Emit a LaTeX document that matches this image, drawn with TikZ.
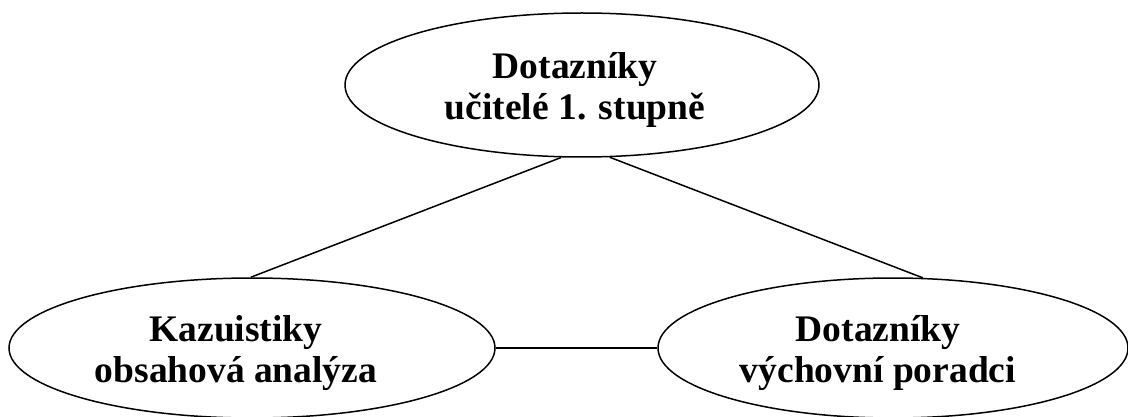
\documentclass[tikz,border=0pt]{standalone}
\usepackage{fontspec}
\setmainfont{Liberation Serif}
\usetikzlibrary{shapes.geometric}
\tikzset{
  oval/.style={draw, ellipse, line width=1.5pt, inner sep=0pt},
  caption/.style={align=center, font=\bfseries\fontsize{37.5}{41}\selectfont, inner sep=0pt},
  link/.style={line width=1.5pt}
}
\begin{document}
\begin{tikzpicture}[x=1pt, y=-1pt]
  \useasboundingbox (0,0) rectangle (1128,417);
  % the three ellipses
  \node[oval, minimum width=474pt, minimum height=144pt] (top)   at (582,85)  {};
  \node[oval, minimum width=486pt, minimum height=140pt] (left)  at (252,348) {};
  \node[oval, minimum width=470pt, minimum height=140pt] (right) at (893,348) {};
  % their labels
  \node[caption] (ttop)   at (575,90)  {Dotazníky\\učitelé 1. stupně};
  \node[caption] (tleft)  at (236,353) {Kazuistiky\\obsahová analýza};
  \node[caption] (tright) at (878,353) {Dotazníky\\výchovní poradci};
  % connecting lines
  \draw[link] (top.254.5) -- (left.91.6);
  \draw[link] (top.291.3) -- (right.67.8);
  \draw[link] (left.east) -- (right.west);
\end{tikzpicture}
\end{document}
